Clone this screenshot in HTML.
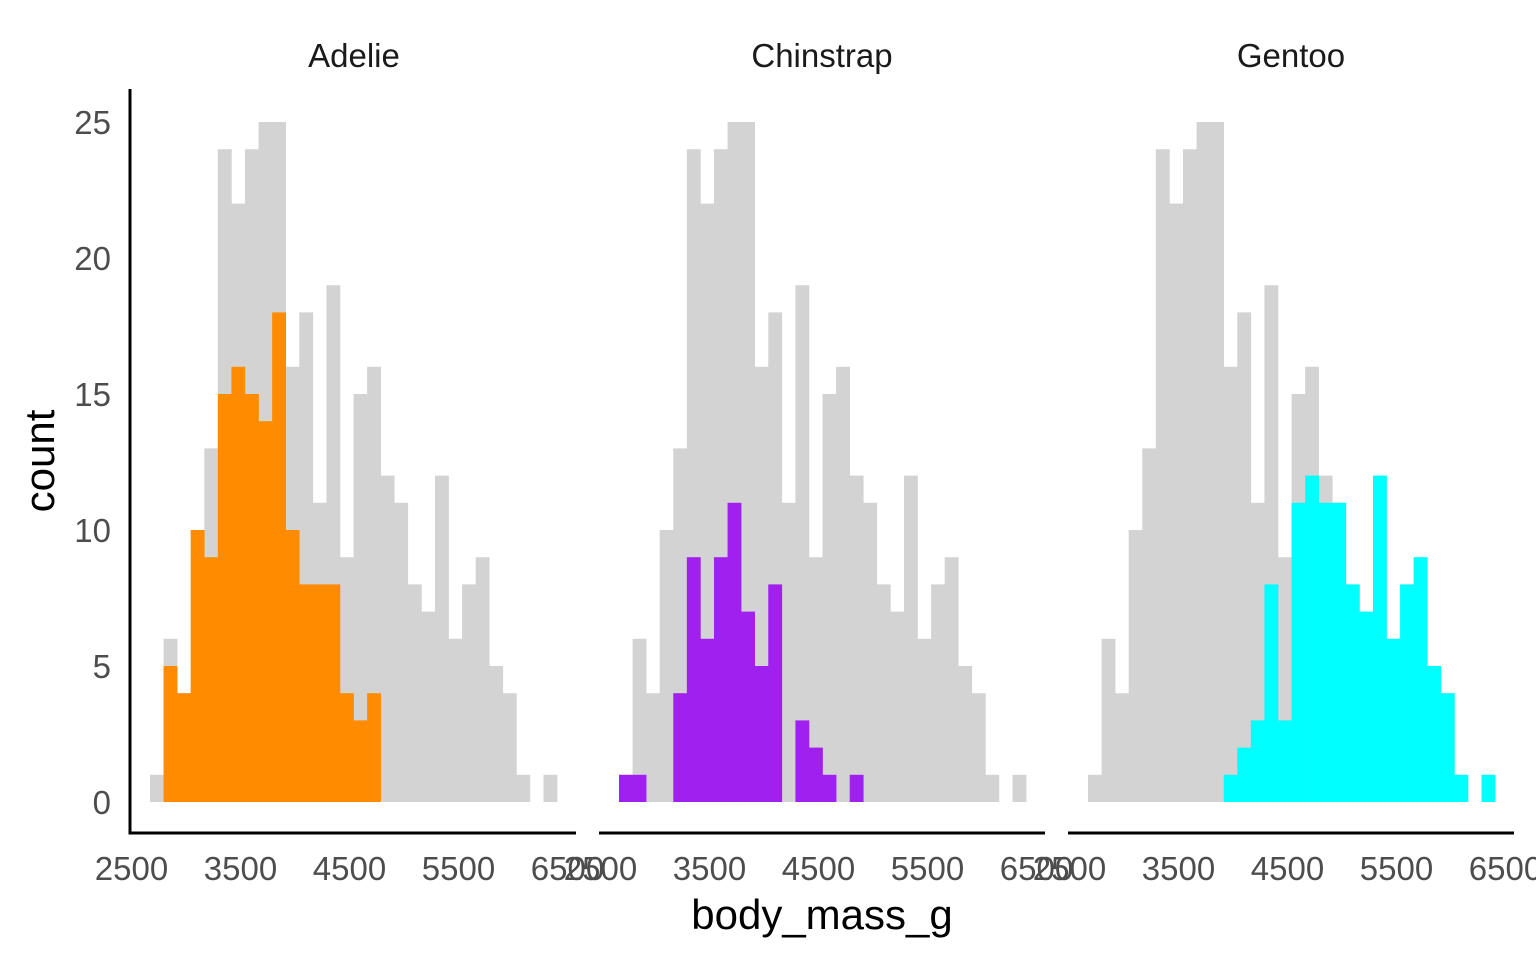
<!DOCTYPE html>
<html><head><meta charset="utf-8"><style>
html,body{margin:0;padding:0;background:#fff;}
svg{display:block;font-family:"Liberation Sans",Arial,sans-serif;}
</style></head><body>
<svg id="s" width="1536" height="960" xmlns="http://www.w3.org/2000/svg">
<g id="bars"></g>
<g font-size="33" fill="#4d4d4d" text-anchor="end">
<text x="111" y="814">0</text>
<text x="111" y="678">5</text>
<text x="111" y="542">10</text>
<text x="111" y="406">15</text>
<text x="111" y="270">20</text>
<text x="111" y="134">25</text>
</g>
<g font-size="33" fill="#4d4d4d" text-anchor="middle" id="xt"></g>
<g font-size="33" fill="#1a1a1a" text-anchor="middle">
<text x="354" y="67">Adelie</text>
<text x="822" y="67">Chinstrap</text>
<text x="1291" y="67">Gentoo</text>
</g>
<text x="822" y="929" font-size="42" text-anchor="middle" fill="#000">body_mass_g</text>
<text transform="translate(54,461) rotate(-90)" font-size="42" text-anchor="middle" fill="#000">count</text>
<g stroke="#000" stroke-width="3" fill="none">
<line x1="130" y1="89" x2="130" y2="833"/>
<line x1="128.5" y1="833" x2="576" y2="833"/>
<line x1="599" y1="833" x2="1045" y2="833"/>
<line x1="1068" y1="833" x2="1514" y2="833"/>
</g>
</svg>
<script>
var g=[1,6,4,10,13,24,22,24,25,25,16,18,11,19,9,15,16,12,11,8,7,12,6,8,9,5,4,1,0,1];
var A=[0,5,4,10,9,15,16,15,14,18,10,8,8,8,4,3,4,0,0,0,0,0,0,0,0,0,0,0,0,0];
var C=[1,1,0,0,4,9,6,9,11,7,5,8,0,3,2,1,0,1,0,0,0,0,0,0,0,0,0,0,0,0];
var G=[0,0,0,0,0,0,0,0,0,0,1,2,3,8,3,11,12,11,11,8,7,12,6,8,9,5,4,1,0,1];
var starts=[150,619,1088],cols=["#FF8C00","#A020F0","#00FFFF"],sp=[A,C,G];
var w=13.57,base=802,k=27.2,h="";
for(var p=0;p<3;p++){
 var arr=[g,sp[p]],cl=["#D3D3D3",cols[p]];
 for(var q=0;q<2;q++){
  for(var i=0;i<30;i++){var v=arr[q][i];if(!v)continue;
   var x=starts[p]+i*w;
   h+='<rect x="'+x.toFixed(2)+'" y="'+(base-v*k).toFixed(2)+'" width="'+(w+0.3).toFixed(2)+'" height="'+(v*k).toFixed(2)+'" fill="'+cl[q]+'"/>';}
 }
}
document.getElementById("bars").innerHTML=h;
var t="",labs=["2500","3500","4500","5500","6500"];
for(var p=0;p<3;p++){for(var j=0;j<5;j++){var x=131.5+p*469+j*109;
 t+='<text x="'+x+'" y="880">'+labs[j]+'</text>';}}
document.getElementById("xt").innerHTML=t;
</script>
</body></html>
